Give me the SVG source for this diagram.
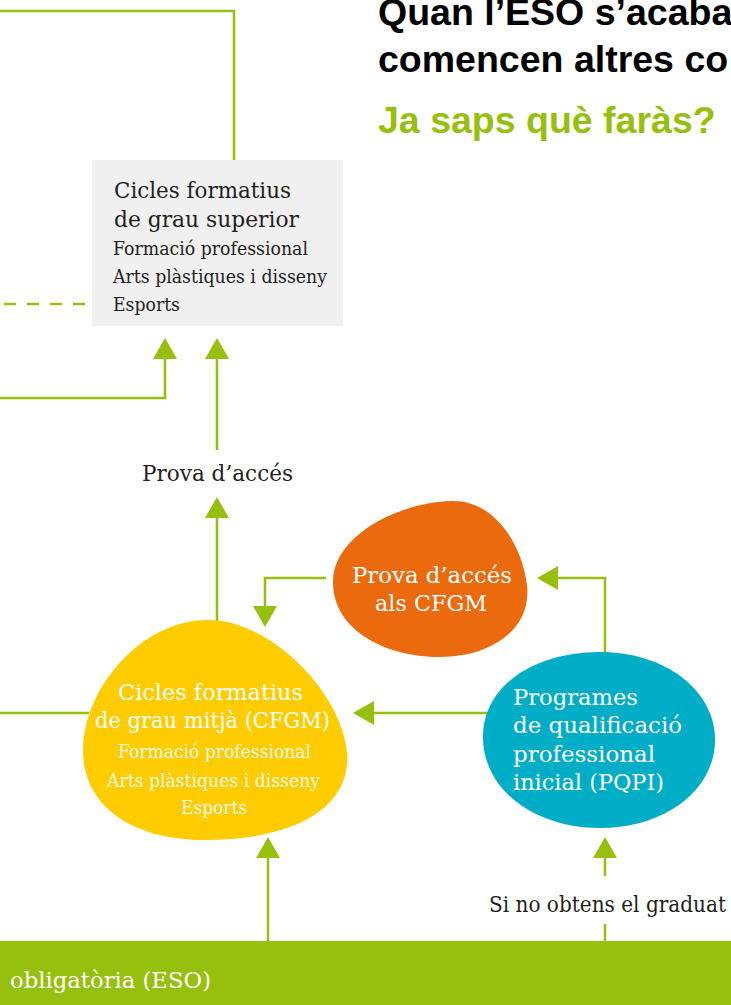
<svg xmlns="http://www.w3.org/2000/svg" width="731" height="1005" viewBox="0 0 731 1005">
<style>
.conn{fill:none;stroke:#97bf0d;stroke-width:2.5}
.dash{stroke-dasharray:12 11}
.slab{font-family:"DejaVu Serif","Liberation Serif",serif}
.dark{fill:#231f20}
.wh{fill:#ffffff}
.big{font-size:23px}
.sm{font-size:18.5px}
.title{font-family:"Liberation Sans",Arial,sans-serif;font-weight:bold;font-size:37.5px}
</style>
<defs>
<marker id="arr" viewBox="0 0 21 24" refX="15" refY="12" markerWidth="21" markerHeight="24" markerUnits="userSpaceOnUse" orient="auto">
<path d="M0,0 L21,12 L0,24 Z" fill="#97bf0d"/>
</marker>
</defs>
<rect width="731" height="1005" fill="#ffffff"/>

<g id="heading">
<text class="title" x="378" y="25" fill="#000">Quan l’ESO s’acaba</text>
<text class="title" x="378" y="72" fill="#000">comencen altres co</text>
<text class="title" x="378" y="133" fill="#97bf0d">Ja saps què faràs?</text>
</g>

<g id="connectors">
<path class="conn" d="M0,11 H234 V160"/>
<path class="conn dash" d="M85,304 H0"/>
<path class="conn" d="M0,398 H165 V344" marker-end="url(#arr)"/>
<path class="conn" d="M217,450 V344" marker-end="url(#arr)"/>
<path class="conn" d="M217,621 V503" marker-end="url(#arr)"/>
<path class="conn" d="M326,578 H265 V621" marker-end="url(#arr)"/>
<path class="conn" d="M605,653 V578 H543" marker-end="url(#arr)"/>
<path class="conn" d="M490,713 H359" marker-end="url(#arr)"/>
<path class="conn" d="M89,713 H0"/>
<path class="conn" d="M268,941 V843" marker-end="url(#arr)"/>
<path class="conn" d="M605,876 V843" marker-end="url(#arr)"/>
<path class="conn" d="M605,941 V924"/>
</g>

<g id="cfgs">
<rect x="92" y="160" width="251" height="166" fill="#f0f0f0"/>
<text class="slab dark big" x="114" y="198" textLength="177" lengthAdjust="spacingAndGlyphs">Cicles formatius</text>
<text class="slab dark big" x="114" y="227" textLength="185" lengthAdjust="spacingAndGlyphs">de grau superior</text>
<text class="slab dark sm" x="113" y="255" textLength="195" lengthAdjust="spacingAndGlyphs">Formació professional</text>
<text class="slab dark sm" x="113" y="283" textLength="214" lengthAdjust="spacingAndGlyphs">Arts plàstiques i disseny</text>
<text class="slab dark sm" x="113" y="311" textLength="67" lengthAdjust="spacingAndGlyphs">Esports</text>
</g>

<g id="prova-label">
<text class="slab dark big" x="142" y="481" textLength="151" lengthAdjust="spacingAndGlyphs">Prova d’accés</text>
</g>

<g id="prova-cfgm">
<path d="M452,501 C495,500 522,545 527,585 C532,630 490,657 440,657 C385,657 333,630 333,582 C333,535 400,502 452,501 Z" fill="#eb6a0e"/>
<text class="slab wh big" x="352" y="583" textLength="160" lengthAdjust="spacingAndGlyphs">Prova d’accés</text>
<text class="slab wh big" x="375" y="611" textLength="112" lengthAdjust="spacingAndGlyphs">als CFGM</text>
</g>

<g id="cfgm">
<path d="M208,620 C270,620 340,690 347,752 C352,810 290,840 205,840 C130,840 83,805 83,750 C83,690 140,620 208,620 Z" fill="#ffcc00"/>
<text class="slab wh big" x="118" y="700" textLength="185" lengthAdjust="spacingAndGlyphs">Cicles formatius</text>
<text class="slab wh big" x="95" y="728" textLength="235" lengthAdjust="spacingAndGlyphs">de grau mitjà (CFGM)</text>
<text class="slab wh sm" x="118" y="758" textLength="193" lengthAdjust="spacingAndGlyphs" fill-opacity="0.92">Formació professional</text>
<text class="slab wh sm" x="107" y="787" textLength="213" lengthAdjust="spacingAndGlyphs" fill-opacity="0.92">Arts plàstiques i disseny</text>
<text class="slab wh sm" x="181" y="814" textLength="66" lengthAdjust="spacingAndGlyphs" fill-opacity="0.92">Esports</text>
</g>

<g id="pqpi">
<path d="M600,652 C665,652 715,690 715,740 C715,790 665,828 600,828 C535,828 483,790 483,737 C483,685 535,652 600,652 Z" fill="#00adc6"/>
<text class="slab wh big" x="513" y="705" textLength="125" lengthAdjust="spacingAndGlyphs">Programes</text>
<text class="slab wh big" x="513" y="733" textLength="169" lengthAdjust="spacingAndGlyphs">de qualificació</text>
<text class="slab wh big" x="513" y="762" textLength="142" lengthAdjust="spacingAndGlyphs">professional</text>
<text class="slab wh big" x="513" y="790" textLength="151" lengthAdjust="spacingAndGlyphs">inicial (PQPI)</text>
</g>

<g id="graduat-label">
<text class="slab dark big" x="489" y="912" textLength="237" lengthAdjust="spacingAndGlyphs">Si no obtens el graduat</text>
</g>

<g id="eso">
<rect x="0" y="941" width="731" height="64" fill="#97bf0d"/>
<text class="slab wh big" x="10" y="988" textLength="201" lengthAdjust="spacingAndGlyphs">obligatòria (ESO)</text>
</g>
</svg>
